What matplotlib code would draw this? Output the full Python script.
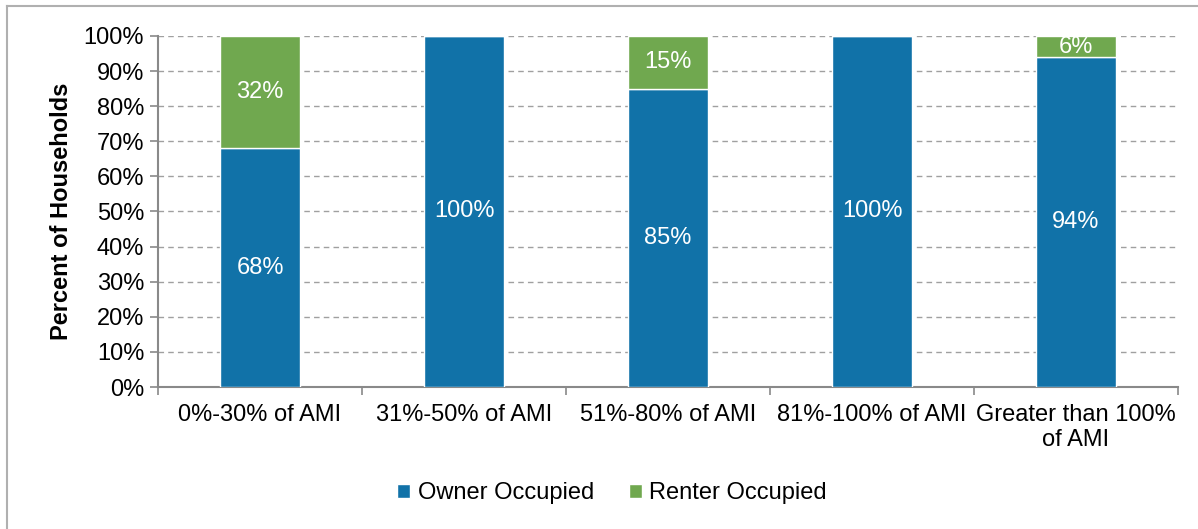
import matplotlib
matplotlib.use("Agg")
import matplotlib.pyplot as plt
from matplotlib.lines import Line2D
import numpy as np

plt.rcParams['font.family'] = ['Liberation Sans', 'DejaVu Sans']

categories = ["0%-30% of AMI", "31%-50% of AMI", "51%-80% of AMI",
              "81%-100% of AMI", "Greater than 100%\nof AMI"]
owner = [68, 100, 85, 100, 94]
renter = [32, 0, 15, 0, 6]
yticks = list(range(0, 101, 10))

blue = "#1172A8"
green = "#70A84F"
fs = 17

fig = plt.figure(figsize=(11.98, 5.29), dpi=100)
ax = fig.add_axes([0.1319, 0.2684, 0.8514, 0.6636])

x = np.arange(len(categories))
w = 0.39
ax.bar(x, owner, w, color=blue, edgecolor="white", linewidth=1, label="Owner Occupied", zorder=3)
ax.bar(x, renter, w, bottom=owner, color=green, edgecolor="white", linewidth=1, label="Renter Occupied", zorder=3)

for i in range(len(categories)):
    if owner[i] > 0:
        ax.text(x[i], owner[i] / 2, f"{owner[i]}%", ha="center", va="center", color="white", fontsize=fs, zorder=4)
    if renter[i] > 0:
        ax.text(x[i], owner[i] + renter[i] / 2, f"{renter[i]}%", ha="center", va="center", color="white", fontsize=fs, zorder=4)

ax.set_xlim(-0.5, len(categories) - 0.5)
ax.set_ylim(0, 100)
ax.set_yticks(yticks)
ax.set_yticklabels([f"{v}%" for v in yticks], fontsize=fs)
ax.set_xticks(x)
ax.set_xticklabels(categories, fontsize=fs, linespacing=1.2)
ax.set_xticks(np.arange(-0.5, len(categories), 1), minor=True)
ax.tick_params(axis="x", which="major", length=0, pad=12)
ax.tick_params(axis="x", which="minor", length=6, color="#898989", width=1.2)
ax.tick_params(axis="y", length=6, color="#898989", width=1.2, pad=4)
ax.yaxis.grid(True, linestyle=(0, (4, 3)), color="#A0A0A0", linewidth=1, zorder=0)
ax.set_axisbelow(True)
for s in ["top", "right"]:
    ax.spines[s].set_visible(False)
for s in ["left", "bottom"]:
    ax.spines[s].set_color("#898989")
    ax.spines[s].set_linewidth(1.5)
ax.set_ylabel("Percent of Households", fontsize=fs, fontweight="bold", labelpad=8)

leg = fig.legend(loc="center", bbox_to_anchor=(0.511, 0.068), ncol=2, frameon=False, fontsize=fs,
                 handlelength=0.55, handleheight=0.55, handletextpad=0.3, columnspacing=1.5)

fig.add_artist(Line2D([7 / 1198, 7 / 1198], [0, 1 - 6 / 529], color="#B0B0B0", linewidth=1.5, transform=fig.transFigure))
fig.add_artist(Line2D([7 / 1198, 1], [1 - 6 / 529, 1 - 6 / 529], color="#B0B0B0", linewidth=1.5, transform=fig.transFigure))

fig.savefig("out.png", dpi=100)
